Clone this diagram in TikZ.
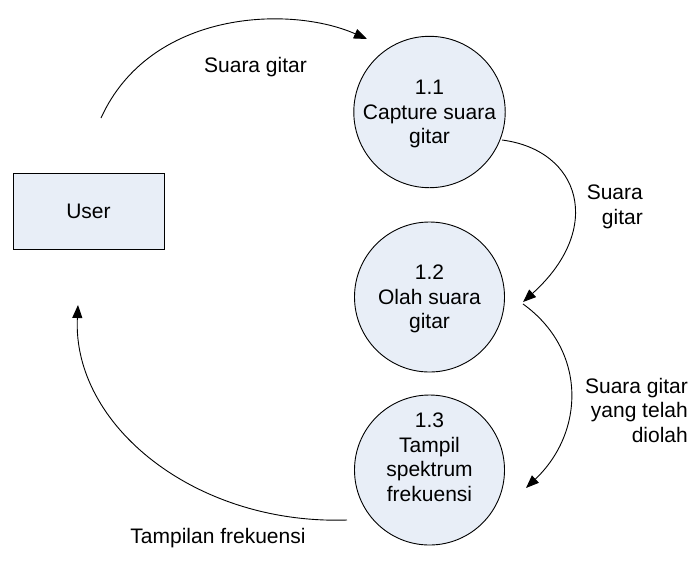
\documentclass[tikz,border=0pt]{standalone}
\usepackage{fontspec}
\setmainfont{Liberation Sans}
\usetikzlibrary{arrows.meta}
\definecolor{procfill}{RGB}{232,238,247}
\begin{document}
\begin{tikzpicture}[x=1pt,y=-1pt,
  every node/.style={font=\fontsize{21}{24.5}\selectfont},
  process/.style={circle,draw,fill=procfill,line width=0.9pt,minimum size=150pt,inner sep=0pt,align=center},
  entity/.style={rectangle,draw,fill=procfill,line width=0.9pt,minimum width=151pt,minimum height=76pt},
  flow/.style={line width=0.9pt,-{Triangle[length=13pt,width=10pt]}},
  lbl/.style={inner sep=0pt}]
\useasboundingbox (0,0) rectangle (695,566);

% external entity and processes
\node[entity] (user) at (88.5,211) {User};
\node[process] (p1) at (429.5,112) {\rule{0pt}{19pt}1.1\\Capture suara\\gitar};
\node[process] (p2) at (429.5,297) {\rule{0pt}{19pt}1.2\\Olah suara\\gitar};
% the deep strut lifts the four lines towards the top of the circle
\node[process] (p3) at (429.5,470) {1.3\\Tampil\\spektrum\\frekuensi\rule[-26pt]{0pt}{0pt}};

% connector end points
\coordinate (f1s) at (101,118);
\coordinate (f1e) at (367,39);
\coordinate (f2s) at (502,140);
\coordinate (f2e) at (523,302);
\coordinate (f3s) at (523,304);
\coordinate (f3e) at (526,488);
\coordinate (f4s) at (347,520);
\coordinate (f4e) at (78,305);

% data flows
\draw[flow] (f1s) .. controls (150,10) and (290,5) .. (f1e);
\draw[flow] (f2s) .. controls (580,150) and (605,228) .. (f2e);
\draw[flow] (f3s) .. controls (587,350) and (585,432) .. (f3e);
\draw[flow] (f4s) .. controls (195,525) and (72,425) .. (f4e);

% flow labels
\node[lbl,anchor=base] (l1) at (255.5,72) {Suara gitar};
\node[lbl,anchor=north east,align=right] (l2) at (643,185) {Suara\\gitar};
\node[lbl,anchor=north east,align=right] (l3) at (688,378) {Suara gitar\\yang telah\\diolah};
\node[lbl,anchor=base] (l4) at (218,543) {Tampilan frekuensi};
\end{tikzpicture}
\end{document}
